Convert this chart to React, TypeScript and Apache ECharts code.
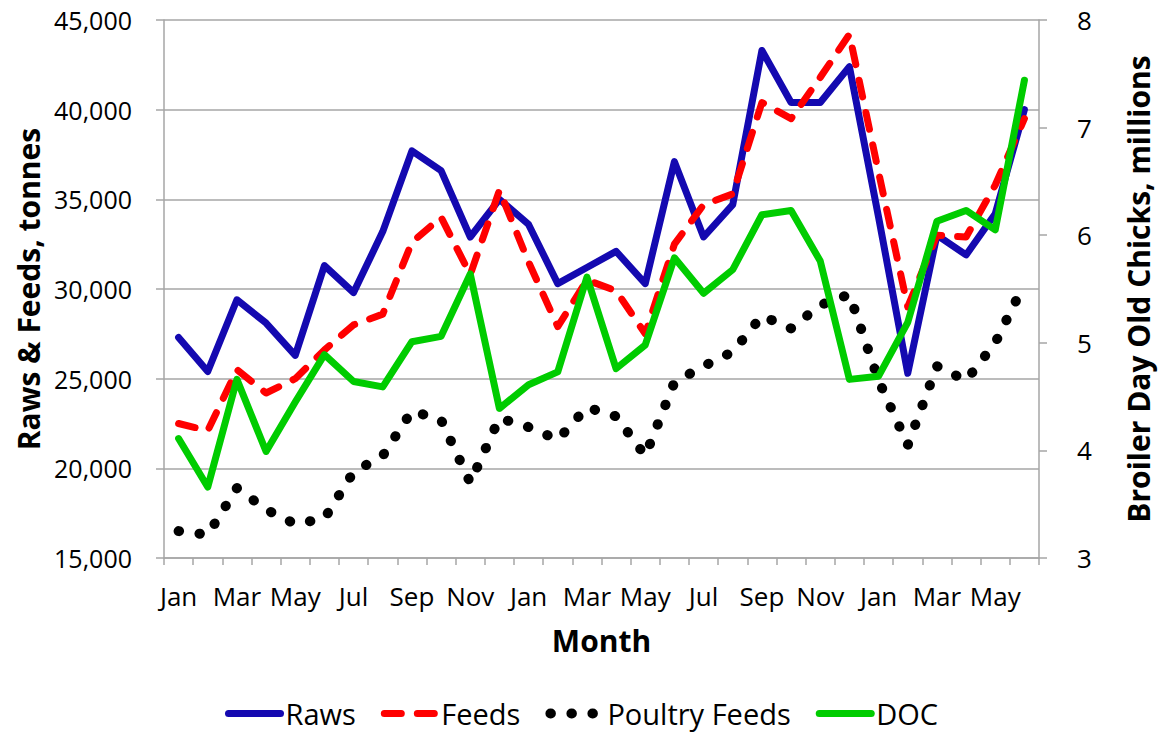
import React, { useEffect, useRef } from 'react';
import * as echarts from 'echarts';

const months = [
  'Jan', 'Feb', 'Mar', 'Apr', 'May', 'Jun', 'Jul', 'Aug', 'Sep', 'Oct', 'Nov', 'Dec',
  'Jan', 'Feb', 'Mar', 'Apr', 'May', 'Jun', 'Jul', 'Aug', 'Sep', 'Oct', 'Nov', 'Dec',
  'Jan', 'Feb', 'Mar', 'Apr', 'May', 'Jun',
];

const raws = [
  27300, 25400, 29400, 28100, 26300, 31300, 29800, 33200, 37700, 36600, 32900, 35000,
  33600, 30300, 31200, 32100, 30300, 37100, 32900, 34700, 43300, 40400, 40400, 42400,
  34000, 25300, 33000, 31900, 34200, 40000,
];

const feeds = [
  22500, 22100, 25500, 24200, 25000, 26600, 28000, 28600, 32600, 34000, 30800, 35500,
  31500, 27900, 30500, 29900, 27500, 32500, 34700, 35300, 40400, 39500, 41800, 44200,
  36500, 29000, 33000, 32900, 35800, 39500,
];

const poultryFeeds = [
  16500, 16300, 18900, 17700, 16900, 17200, 19800, 20700, 23200, 22700, 19200, 22800,
  22300, 21600, 23400, 22900, 20700, 24800, 25700, 26500, 28500, 27800, 29100, 29700,
  24900, 21300, 25700, 24900, 27000, 30300,
];

const doc = [
  4.11, 3.66, 4.66, 3.99, 4.45, 4.89, 4.64, 4.59, 5.01, 5.06, 5.64, 4.39,
  4.61, 4.73, 5.61, 4.76, 4.98, 5.79, 5.46, 5.68, 6.19, 6.23, 5.76, 4.66,
  4.69, 5.19, 6.13, 6.23, 6.05, 7.44,
];

const FONT = 'Open Sans';
const AXIS_GRAY = '#A6A6A6';

export default function App() {
  const ref = useRef<HTMLDivElement>(null);

  useEffect(() => {
    document.body.style.margin = '0';
    const chart = echarts.init(ref.current as HTMLDivElement, undefined, { renderer: 'svg' });
    chart.setOption({
      animation: false,
      backgroundColor: '#ffffff',
      textStyle: { fontFamily: FONT, color: '#000' },
      grid: { left: 164, right: 118, top: 20, bottom: 175 },
      legend: {
        left: 220,
        top: 694,
        itemWidth: 52,
        itemHeight: 14,
        itemGap: 25,
        itemStyle: { opacity: 0 },
        lineStyle: { width: 'inherit' },
        textStyle: { fontSize: 29, fontFamily: FONT, color: '#000' },
        data: ['Raws', 'Feeds', 'Poultry Feeds', 'DOC'],
      },
      xAxis: {
        type: 'category',
        data: months,
        boundaryGap: true,
        name: 'Month',
        nameLocation: 'middle',
        nameGap: 67,
        nameTextStyle: { fontSize: 30, fontWeight: 'bold', fontFamily: FONT, color: '#000' },
        axisLine: { lineStyle: { color: AXIS_GRAY, width: 1.5 } },
        axisTick: { show: true, interval: 0, length: 7, lineStyle: { color: AXIS_GRAY, width: 1.5 } },
        axisLabel: { interval: 1, fontSize: 26, fontFamily: FONT, color: '#000', margin: 25 },
        splitLine: { show: false },
      },
      yAxis: [
        {
          type: 'value',
          min: 15000,
          max: 45000,
          interval: 5000,
          position: 'left',
          name: 'Raws & Feeds, tonnes',
          nameLocation: 'middle',
          nameRotate: 90,
          nameGap: 120,
          nameTextStyle: { fontSize: 30, fontWeight: 'bold', fontFamily: FONT, color: '#000' },
          axisLine: { show: true, lineStyle: { color: AXIS_GRAY, width: 1.5 } },
          axisTick: { show: true, length: 8, lineStyle: { color: AXIS_GRAY, width: 1.5 } },
          axisLabel: {
            fontSize: 25,
            fontFamily: FONT,
            color: '#000',
            margin: 32,
            formatter: (v: number) => v.toLocaleString('en-US'),
          },
          splitLine: { show: true, lineStyle: { color: AXIS_GRAY, width: 1.5 } },
        },
        {
          type: 'value',
          min: 3,
          max: 8,
          interval: 1,
          position: 'right',
          name: 'Broiler Day Old Chicks, millions',
          nameLocation: 'middle',
          nameRotate: 90,
          nameGap: 84,
          nameTextStyle: { fontSize: 30, fontWeight: 'bold', fontFamily: FONT, color: '#000' },
          axisLine: { show: true, lineStyle: { color: AXIS_GRAY, width: 1.5 } },
          axisTick: { show: true, length: 8, lineStyle: { color: AXIS_GRAY, width: 1.5 } },
          axisLabel: { fontSize: 26, fontFamily: FONT, color: '#000', margin: 38 },
          splitLine: { show: false },
        },
      ],
      series: [
        {
          name: 'Raws',
          type: 'line',
          yAxisIndex: 0,
          data: raws,
          symbol: 'none',
          itemStyle: { color: '#1409B0' },
          lineStyle: { color: '#1409B0', width: 7, cap: 'round', join: 'round' },
        },
        {
          name: 'Feeds',
          type: 'line',
          yAxisIndex: 0,
          data: feeds,
          symbol: 'none',
          itemStyle: { color: '#FF0000' },
          lineStyle: { color: '#FF0000', width: 7, type: [17, 16], cap: 'round', join: 'round' },
        },
        {
          name: 'Poultry Feeds',
          type: 'line',
          yAxisIndex: 0,
          data: poultryFeeds,
          symbol: 'none',
          itemStyle: { color: '#000000' },
          lineStyle: { color: '#000000', width: 10, type: [0.5, 20.5], cap: 'round', join: 'round' },
        },
        {
          name: 'DOC',
          type: 'line',
          yAxisIndex: 1,
          data: doc,
          symbol: 'none',
          itemStyle: { color: '#00CC00' },
          lineStyle: { color: '#00CC00', width: 7, cap: 'round', join: 'round' },
        },
      ],
    });
    return () => chart.dispose();
  }, []);

  return <div ref={ref} style={{ width: 1161, height: 733 }} />;
}
